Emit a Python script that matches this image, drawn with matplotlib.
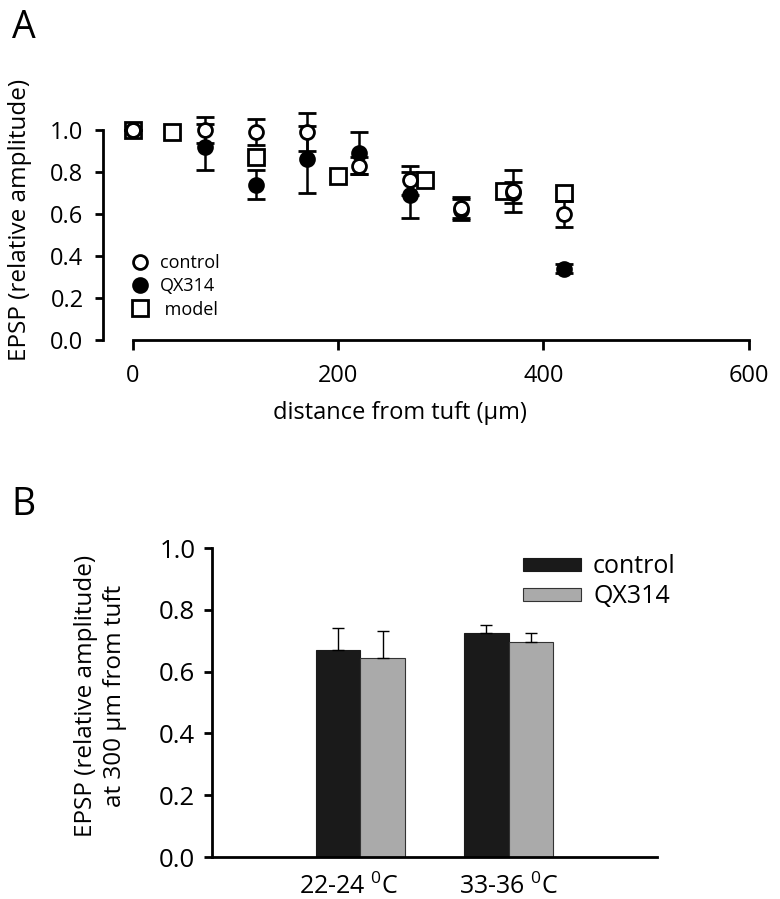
import numpy as np
import matplotlib
matplotlib.use("Agg")
import matplotlib.pyplot as plt
from matplotlib.lines import Line2D
from matplotlib.transforms import ScaledTranslation

plt.rcParams["font.family"] = ["Open Sans", "DejaVu Sans"]
plt.rcParams["mathtext.fontset"] = "custom"
plt.rcParams["mathtext.rm"] = "Open Sans"

# -----------------------------
# Panel A data
# -----------------------------
dist = [0, 70, 120, 170, 220, 270, 320, 370, 420]
control = [1.00, 1.00, 0.99, 0.99, 0.83, 0.76, 0.63, 0.71, 0.60]
control_err = [0.00, 0.06, 0.06, 0.09, 0.04, 0.07, 0.05, 0.10, 0.06]
qx314 = [1.00, 0.92, 0.74, 0.86, 0.89, 0.69, 0.62, 0.70, 0.34]
qx314_err = [0.00, 0.11, 0.07, 0.16, 0.10, 0.11, 0.05, 0.05, 0.02]

model_dist = [0, 38, 120, 200, 285, 362, 420]
model = [1.00, 0.99, 0.87, 0.78, 0.76, 0.71, 0.70]

# -----------------------------
# Panel B data
# -----------------------------
temps = ["22-24 $^{0}$C", "33-36 $^{0}$C"]
bar_control = [0.67, 0.725]
bar_control_err = [0.07, 0.025]
bar_qx = [0.645, 0.695]
bar_qx_err = [0.085, 0.03]

fig = plt.figure(figsize=(7.8, 8.99), dpi=100)

# ---------------- Panel A ----------------
axA = fig.add_axes([0.132, 0.6218, 0.828, 0.2336])
axA.plot(model_dist, model, "s", ms=11, mfc="white", mec="black", mew=2.0,
         zorder=3, clip_on=False)
axA.errorbar(dist, qx314, yerr=qx314_err, fmt="o", ms=10, mfc="black", mec="black",
             mew=2.0, ecolor="black", elinewidth=1.8, capsize=6.5, capthick=1.8,
             zorder=4, clip_on=False)
axA.errorbar(dist, control, yerr=control_err, fmt="o", ms=10, mfc="white", mec="black",
             mew=2.0, ecolor="black", elinewidth=1.8, capsize=6.5, capthick=1.8,
             zorder=5, clip_on=False)

axA.set_xlim(-29, 600)
axA.set_ylim(0, 1.0)
axA.set_xticks([0, 200, 400, 600])
axA.set_yticks([0.0, 0.2, 0.4, 0.6, 0.8, 1.0])
axA.set_yticklabels(["0.0", "0.2", "0.4", "0.6", "0.8", "1.0"])
axA.spines["top"].set_visible(False)
axA.spines["right"].set_visible(False)
axA.spines["bottom"].set_bounds(0, 600)
for s in ["left", "bottom"]:
    axA.spines[s].set_linewidth(2.0)
axA.tick_params(axis="y", direction="out", length=6, width=2.0, labelsize=17, pad=8)
axA.tick_params(axis="x", direction="out", length=7, width=2.0, labelsize=17, pad=10)
axA.set_xlabel("distance from tuft (\u00b5m)", fontsize=17)
axA.xaxis.set_label_coords(0.46, -0.29)
axA.set_ylabel("EPSP (relative amplitude)", fontsize=17.5)
axA.yaxis.set_label_coords(-0.11, 0.57)

handles = [
    Line2D([], [], ls="none", marker="o", ms=10, mfc="white", mec="black", mew=2.0),
    Line2D([], [], ls="none", marker="o", ms=10, mfc="black", mec="black", mew=2.0),
    Line2D([], [], ls="none", marker="s", ms=11, mfc="white", mec="black", mew=2.0),
]
axA.legend(handles, ["control", "QX314", " model"], loc="upper left",
           bbox_to_anchor=(0.043, 0.41), frameon=False, fontsize=13,
           handlelength=1.0, handletextpad=0.6, labelspacing=0.3, borderpad=0,
           borderaxespad=0)

# ---------------- Panel B ----------------
axB = fig.add_axes([0.2718, 0.0467, 0.5705, 0.3437])
pos = np.arange(1, len(temps) + 1)
w = 0.3
axB.bar(pos - w / 2, bar_control, w, color="#1a1a1a", edgecolor="#1a1a1a",
        linewidth=0.8, label="control")
axB.bar(pos + w / 2, bar_qx, w, color="#aaaaaa", edgecolor="#333333",
        linewidth=0.8, label="QX314")
axB.errorbar(pos - w / 2, bar_control, yerr=[np.zeros(len(pos)), bar_control_err],
             fmt="none", ecolor="black", elinewidth=1.0, capsize=4, capthick=1.0)
axB.errorbar(pos + w / 2, bar_qx, yerr=[np.zeros(len(pos)), bar_qx_err],
             fmt="none", ecolor="black", elinewidth=1.0, capsize=4, capthick=1.0)

axB.set_xlim(0, 3)
axB.set_ylim(0, 1.0)
axB.set_xticks(pos)
axB.set_xticklabels(temps)
axB.set_yticks([0.0, 0.2, 0.4, 0.6, 0.8, 1.0])
axB.set_yticklabels(["0.0", "0.2", "0.4", "0.6", "0.8", "1.0"])
axB.spines["top"].set_visible(False)
axB.spines["right"].set_visible(False)
for s in ["left", "bottom"]:
    axB.spines[s].set_linewidth(2.0)
axB.tick_params(axis="y", direction="out", length=6, width=2.0, labelsize=18.5, pad=6)
axB.tick_params(axis="x", length=0, labelsize=18, pad=12)
# first label sits a bit left of its group in the original
lab0 = axB.get_xticklabels()[0]
lab0.set_transform(lab0.get_transform() + ScaledTranslation(-0.12, 0, fig.dpi_scale_trans))
axB.set_ylabel("EPSP (relative amplitude)\nat 300 \u00b5m from tuft", fontsize=17.5,
               linespacing=1.3)
axB.yaxis.set_label_coords(-0.19, 0.52)
axB.legend(loc="upper left", bbox_to_anchor=(0.699, 0.98), frameon=False, fontsize=18,
           handlelength=2.3, handleheight=0.4, handletextpad=0.5, labelspacing=0.2,
           borderpad=0, borderaxespad=0)

fig.text(0.015, 0.99, "A", fontsize=27, va="top", ha="left")
fig.text(0.015, 0.459, "B", fontsize=27, va="top", ha="left")

fig.savefig("out.png", dpi=100)
